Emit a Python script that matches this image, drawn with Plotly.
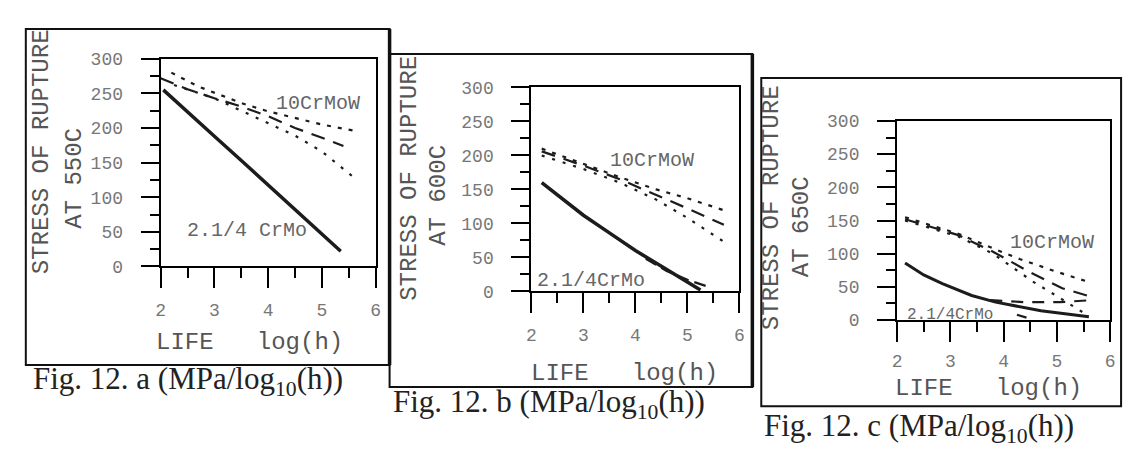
import plotly.graph_objects as go

W, H = 1135, 466

# ---------------- data ----------------
# Panel a : 550C
a_crmo_x = [2.05, 2.5, 3.0, 3.5, 4.0, 4.5, 5.0, 5.35]
a_crmo_y = [255, 224, 188, 153, 118, 83, 48, 22]
a_w_upper_x = [2.2, 2.7, 3.1, 3.5, 4.0, 4.5, 5.0, 5.6]
a_w_upper_y = [280, 260, 248, 236, 224, 214, 205, 196]
a_w_long_x = [2.0, 2.5, 3.0, 3.5, 4.0, 4.5, 5.0, 5.4]
a_w_long_y = [272, 256, 243, 231, 217, 200, 186, 174]
a_w_lower_x = [2.25, 2.7, 3.0, 3.5, 4.0, 4.5, 5.0, 5.65]
a_w_lower_y = [262, 250, 243, 225, 207, 189, 166, 125]

# Panel b : 600C
b_crmo_x = [2.2, 2.5, 3.0, 3.5, 4.0, 4.5, 5.0, 5.25]
b_crmo_y = [160, 142, 112, 86, 60, 37, 14, 2]
b_crmo_dash_x = [4.2, 4.6, 5.0, 5.35]
b_crmo_dash_y = [48, 30, 17, 8]
b_w_upper_x = [2.2, 3.0, 3.7, 4.4, 5.0, 5.75]
b_w_upper_y = [210, 188, 168, 150, 137, 118]
b_w_long_x = [2.2, 3.0, 3.7, 4.4, 5.0, 5.7]
b_w_long_y = [206, 185, 165, 142, 122, 98]
b_w_lower_x = [2.2, 3.0, 3.7, 4.4, 5.0, 5.8]
b_w_lower_y = [200, 180, 160, 135, 108, 68]

# Panel c : 650C
c_crmo_x = [2.15, 2.5, 2.85, 3.4, 3.85, 4.7, 5.6]
c_crmo_y = [86, 68, 55, 37, 27, 14, 5]
c_crmo_dash_x = [3.75, 4.4, 5.05, 5.65]
c_crmo_dash_y = [30, 27, 27, 30]
c_crmo_dash2_x = [4.25, 4.5]
c_crmo_dash2_y = [8, 2]
c_w_upper_x = [2.15, 3.15, 3.8, 4.3, 4.95, 5.65]
c_w_upper_y = [155, 130, 108, 92, 74, 56]
c_w_long_x = [2.15, 3.15, 3.8, 4.45, 5.1, 5.65]
c_w_long_y = [152, 128, 103, 74, 48, 35]
c_w_lower_x = [2.15, 3.15, 3.8, 4.55, 5.0, 5.4, 5.6]
c_w_lower_y = [150, 126, 100, 58, 36, 16, 6]

x_ticks = [2, 3, 4, 5, 6]
y_ticks = [0, 50, 100, 150, 200, 250, 300]
temps = ["550C", "600C", "650C"]
panel_letters = ["a", "b", "c"]

# ---------------- layout geometry (pixels) ----------------
# plot boxes: (x_left, x_right, y_top, y_bottom)
boxes = [(157, 374, 52, 269), (531, 741, 82, 295), (900, 1115, 117, 325)]
frames = [(21, 388, 21, 372), (388, 754, 47, 395), (763, 1126, 72, 415)]
xtick_standoff = [6, 6, 3]


def px(x, y):
    return x / W, 1 - y / H


MONO = "Liberation Mono, Courier New, monospace"
SERIF = "Liberation Serif, Times New Roman, serif"
INK = "#1c1c1c"

fig = go.Figure()


def add_line(ax, xs, ys, dash, width):
    fig.add_trace(go.Scatter(
        x=xs, y=ys, mode="lines", xaxis=ax[0], yaxis=ax[1],
        line=dict(color=INK, width=width, dash=dash),
        showlegend=False, hoverinfo="skip"))


axes = [("x", "y"), ("x2", "y2"), ("x3", "y3")]

# panel a
add_line(axes[0], a_crmo_x, a_crmo_y, "solid", 3.5)
add_line(axes[0], a_w_upper_x, a_w_upper_y, "4px,7px", 2.2)
add_line(axes[0], a_w_long_x, a_w_long_y, "14px,9px", 2.2)
add_line(axes[0], a_w_lower_x, a_w_lower_y, "3px,8px", 2.2)
# panel b
add_line(axes[1], b_crmo_x, b_crmo_y, "solid", 3.5)
add_line(axes[1], b_crmo_dash_x, b_crmo_dash_y, "12px,6px", 2.2)
add_line(axes[1], b_w_upper_x, b_w_upper_y, "4px,7px", 2.2)
add_line(axes[1], b_w_long_x, b_w_long_y, "14px,9px", 2.2)
add_line(axes[1], b_w_lower_x, b_w_lower_y, "3px,8px", 2.2)
# panel c
add_line(axes[2], c_crmo_x, c_crmo_y, "solid", 3.0)
add_line(axes[2], c_crmo_dash_x, c_crmo_dash_y, "12px,9px", 2.2)
add_line(axes[2], c_crmo_dash2_x, c_crmo_dash2_y, "10px,6px", 2.2)
add_line(axes[2], c_w_upper_x, c_w_upper_y, "4px,7px", 2.2)
add_line(axes[2], c_w_long_x, c_w_long_y, "14px,9px", 2.2)
add_line(axes[2], c_w_lower_x, c_w_lower_y, "3px,8px", 2.2)

layout = dict(
    width=W, height=H, margin=dict(l=0, r=0, t=0, b=0),
    paper_bgcolor="white", plot_bgcolor="white", showlegend=False,
)

for i, (xl, xr, yt, yb) in enumerate(boxes):
    sfx = "" if i == 0 else str(i + 1)
    x0, _ = px(xl, 0)
    x1, _ = px(xr, 0)
    _, y0 = px(0, yb)
    _, y1 = px(0, yt)
    layout["xaxis" + sfx] = dict(
        domain=[x0, x1], range=[2, 6], anchor="y" + sfx,
        tickvals=x_ticks, ticks="outside", ticklen=20, tickwidth=2, tickcolor="black",
        showline=True, linewidth=2, linecolor="black", mirror=True,
        showgrid=False, zeroline=False, ticklabelstandoff=xtick_standoff[i],
        tickfont=dict(family=MONO, size=18, color="#777"),
        minor=dict(dtick=0.5, ticks="outside", ticklen=10, tickwidth=2, tickcolor="black",
                   showgrid=False),
    )
    layout["yaxis" + sfx] = dict(
        domain=[y0, y1], range=[0, 300], anchor="x" + sfx,
        tickvals=y_ticks, ticks="outside", ticklen=18, tickwidth=2, tickcolor="black",
        showline=True, linewidth=2, linecolor="black", mirror=True,
        showgrid=False, zeroline=False, ticklabelstandoff=14,
        tickfont=dict(family=MONO, size=18, color="#777"),
        minor=dict(dtick=25, ticks="outside", ticklen=9, tickwidth=2, tickcolor="black",
                   showgrid=False),
    )

fig.update_layout(**layout)

annotations = []
# axis titles
ytitle1_pos = [(37, 149), (408, 177), (773, 208)]
ytitle2_pos = [(70, 177), (437, 195), (803, 227)]
xtitle_pos = [(247, 348), (625, 381), (992, 397)]
caption_pos = [(26, 389), (389, 413), (764, 438)]
for i in range(3):
    x, y = px(*ytitle1_pos[i])
    annotations.append(dict(text="STRESS OF RUPTURE", x=x, y=y, xref="paper", yref="paper",
                            textangle=-90, showarrow=False, xanchor="center", yanchor="middle",
                            font=dict(family=MONO, size=24, color="#555")))
    x, y = px(*ytitle2_pos[i])
    annotations.append(dict(text="AT " + temps[i], x=x, y=y, xref="paper", yref="paper",
                            textangle=-90, showarrow=False, xanchor="center", yanchor="middle",
                            font=dict(family=MONO, size=24, color="#555")))
    x, y = px(*xtitle_pos[i])
    annotations.append(dict(text="LIFE   log(h)", x=x, y=y, xref="paper", yref="paper",
                            showarrow=False, xanchor="center", yanchor="middle",
                            font=dict(family=MONO, size=24, color="#555")))
    x, y = px(*caption_pos[i])
    annotations.append(dict(text="Fig. 12. " + panel_letters[i] + " (MPa/log<sub>10</sub>(h))",
                            x=x, y=y, xref="paper", yref="paper",
                            showarrow=False, xanchor="left", yanchor="middle",
                            font=dict(family=SERIF, size=31, color="#222")))

# series labels (data coordinates)
labels = [
    ("x", "y", 4.93, 235, "10CrMoW", 20),
    ("x", "y", 3.6, 52, "2.1/4 CrMo", 20),
    ("x2", "y2", 4.31, 192, "10CrMoW", 20),
    ("x2", "y2", 3.15, 16, "2.1/4CrMo", 20),
    ("x3", "y3", 4.9, 117, "10CrMoW", 20),
    ("x3", "y3", 2.99, 7, "2.1/4CrMo", 16),
]
for xr, yr, x, y, t, s in labels:
    annotations.append(dict(text=t, x=x, y=y, xref=xr, yref=yr, showarrow=False,
                            xanchor="center", yanchor="middle",
                            font=dict(family=MONO, size=s, color="#666")))

shapes = []
for (l, r, t, b) in frames:
    x0, y0 = px(l, b)
    x1, y1 = px(r, t)
    shapes.append(dict(type="rect", xref="paper", yref="paper", x0=x0, y0=y0, x1=x1, y1=y1,
                       line=dict(color="#111", width=2)))
# thicker right edges of panels a and b
for (l, r, t, b) in frames[:2]:
    x0, y0 = px(r, b)
    x1, y1 = px(r, t)
    shapes.append(dict(type="line", xref="paper", yref="paper", x0=x0, y0=y0, x1=x1, y1=y1,
                       line=dict(color="#111", width=3.5)))

fig.update_layout(annotations=annotations, shapes=shapes)
fig.write_html("out.html")
